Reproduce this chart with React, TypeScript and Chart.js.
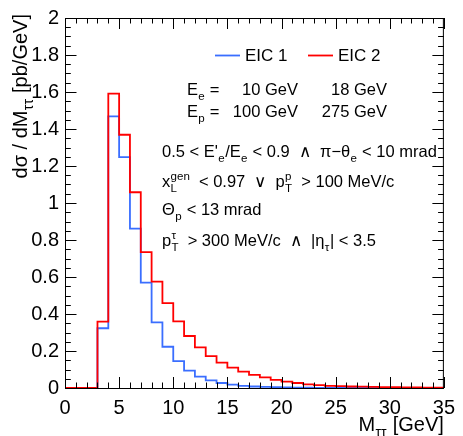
import React, { useEffect, useRef } from 'react';
import { Chart, registerables } from 'chart.js';

Chart.register(...registerables);

// Bin edges (GeV) of the M_tautau histogram, 1 GeV bins from 0 to 35
const binEdges: number[] = Array.from({ length: 36 }, (_, i) => i);

// EIC 1 (10 GeV x 100 GeV) dsigma/dM [pb/GeV] per bin
const eic1: number[] = [
  0, 0, 0, 0.323, 1.468, 1.248, 0.862, 0.570, 0.355, 0.223,
  0.145, 0.094, 0.062, 0.041, 0.027, 0.018, 0.012, 0.008, 0.006, 0.004,
  0.003, 0.002, 0.002, 0.001, 0.001, 0.001, 0.001, 0.001, 0, 0,
  0, 0, 0, 0, 0,
];

// EIC 2 (18 GeV x 275 GeV) dsigma/dM [pb/GeV] per bin
const eic2: number[] = [
  0, 0, 0, 0.359, 1.591, 1.369, 1.058, 0.735, 0.575, 0.459,
  0.360, 0.281, 0.220, 0.172, 0.137, 0.110, 0.089, 0.071, 0.057, 0.044,
  0.035, 0.027, 0.020, 0.016, 0.012, 0.010, 0.008, 0.007, 0.006, 0.005,
  0.004, 0.003, 0.003, 0.002, 0.002,
];

const seriesNames: string[] = ['EIC 1', 'EIC 2'];
const xRange: number[] = [0, 35];
const yRange: number[] = [0, 2];
const xMajorStep = 5;
const xMinorStep = 1;
const yMajorStep = 0.2;
const yMinorStep = 0.05;

const FONT = "'Liberation Sans', Arial, Helvetica, sans-serif";
const BLUE = 'rgb(58,110,255)';
const RED = 'rgb(255,0,0)';

type Tok = { t: string; sub?: string; sup?: string };

function scriptExtra(size: number, tok: Tok, extra: number) {
  if (extra <= 0) return 0;
  return extra + size * 0.05 + (tok.sub && tok.sup ? 4 : 0);
}

function tokWidth(ctx: CanvasRenderingContext2D, tok: Tok, size: number) {
  ctx.font = `${size}px ${FONT}`;
  const w = ctx.measureText(tok.t).width;
  const s = size * 0.7;
  ctx.font = `${s}px ${FONT}`;
  const ws = tok.sub ? ctx.measureText(tok.sub).width : 0;
  const wp = tok.sup ? ctx.measureText(tok.sup).width : 0;
  return w + scriptExtra(size, tok, Math.max(ws, wp));
}

function richWidth(ctx: CanvasRenderingContext2D, toks: Tok[], size: number) {
  return toks.reduce((a, tk) => a + tokWidth(ctx, tk, size), 0);
}

function drawRich(
  ctx: CanvasRenderingContext2D,
  toks: Tok[],
  x: number,
  y: number,
  size: number,
  align: 'left' | 'right' = 'left'
) {
  let cx = align === 'right' ? x - richWidth(ctx, toks, size) : x;
  ctx.textAlign = 'left';
  ctx.textBaseline = 'alphabetic';
  for (const tk of toks) {
    ctx.font = `${size}px ${FONT}`;
    ctx.fillText(tk.t, cx, y);
    const w = ctx.measureText(tk.t).width;
    const s = size * 0.7;
    ctx.font = `${s}px ${FONT}`;
    let extra = 0;
    if (tk.sub) {
      ctx.fillText(tk.sub, cx + w + size * 0.02, y + size * 0.28);
      extra = Math.max(extra, ctx.measureText(tk.sub).width);
    }
    if (tk.sup) {
      ctx.fillText(tk.sup, cx + w + size * 0.02, y - size * 0.45);
      extra = Math.max(extra, ctx.measureText(tk.sup).width);
    }
    cx += w + scriptExtra(size, tk, extra);
  }
}

const rootStyle = {
  id: 'rootStyle',
  afterDraw(chart: any) {
    const { ctx, chartArea, scales } = chart;
    const { left, right, top, bottom } = chartArea;
    const xs = scales.x;
    const ys = scales.y;
    ctx.save();
    ctx.strokeStyle = '#000';
    ctx.lineWidth = 1;
    ctx.strokeRect(left + 0.5, top + 0.5, right - left - 1, bottom - top);

    ctx.beginPath();
    const nx = Math.round((xRange[1] - xRange[0]) / xMinorStep);
    for (let i = 0; i <= nx; i++) {
      const v = xRange[0] + i * xMinorStep;
      const major = Math.abs(v / xMajorStep - Math.round(v / xMajorStep)) < 1e-6;
      const len = major ? 11 : 5.5;
      const px = Math.round(xs.getPixelForValue(v)) + 0.5;
      ctx.moveTo(px, bottom);
      ctx.lineTo(px, bottom - len);
      ctx.moveTo(px, top);
      ctx.lineTo(px, top + len);
    }
    const ny = Math.round((yRange[1] - yRange[0]) / yMinorStep);
    for (let i = 0; i <= ny; i++) {
      const v = yRange[0] + i * yMinorStep;
      const major = Math.abs(v / yMajorStep - Math.round(v / yMajorStep)) < 1e-6;
      const len = major ? 11.5 : 5.8;
      const py = Math.round(ys.getPixelForValue(v)) + 0.5;
      ctx.moveTo(left, py);
      ctx.lineTo(left + len, py);
      ctx.moveTo(right, py);
      ctx.lineTo(right - len, py);
    }
    ctx.stroke();

    ctx.fillStyle = '#000';
    // axis titles
    drawRich(ctx, [{ t: 'M', sub: 'ττ' }, { t: ' [GeV]' }], right, 431, 20, 'right');
    ctx.save();
    ctx.translate(27, top - 4);
    ctx.rotate(-Math.PI / 2);
    drawRich(ctx, [{ t: 'dσ / dM', sub: 'ττ' }, { t: ' [pb/GeV]' }], 0, 0, 20, 'right');
    ctx.restore();

    // legend
    const ly = 55.5;
    ctx.lineWidth = 1.8;
    ctx.strokeStyle = BLUE;
    ctx.beginPath();
    ctx.moveTo(215, ly);
    ctx.lineTo(240, ly);
    ctx.stroke();
    ctx.strokeStyle = RED;
    ctx.beginPath();
    ctx.moveTo(308, ly);
    ctx.lineTo(333, ly);
    ctx.stroke();
    ctx.fillStyle = '#000';
    drawRich(ctx, [{ t: seriesNames[0] }], 245, 61, 17);
    drawRich(ctx, [{ t: seriesNames[1] }], 338, 61, 17);

    // beam energies
    const fs = 16.5;
    drawRich(ctx, [{ t: 'E', sub: 'e' }, { t: ' =' }], 187, 95, fs);
    drawRich(ctx, [{ t: '10 GeV' }], 298, 95, fs, 'right');
    drawRich(ctx, [{ t: '18 GeV' }], 387, 95, fs, 'right');
    drawRich(ctx, [{ t: 'E', sub: 'p' }, { t: ' =' }], 187, 117, fs);
    drawRich(ctx, [{ t: '100 GeV' }], 298, 117, fs, 'right');
    drawRich(ctx, [{ t: '275 GeV' }], 387, 117, fs, 'right');

    // cuts
    const tx = 162;
    drawRich(
      ctx,
      [
        { t: "0.5 < E'", sub: 'e' },
        { t: '/E', sub: 'e' },
        { t: ' < 0.9  ∧  π−θ', sub: 'e' },
        { t: ' < 10 mrad' },
      ],
      tx,
      157,
      fs
    );
    drawRich(
      ctx,
      [
        { t: 'x', sub: 'L', sup: 'gen' },
        { t: ' < 0.97  ∨  p', sub: 'T', sup: 'p' },
        { t: ' > 100 MeV/c' },
      ],
      tx,
      187,
      fs
    );
    drawRich(ctx, [{ t: 'Θ', sub: 'p' }, { t: ' < 13 mrad' }], tx, 215, fs);
    drawRich(
      ctx,
      [
        { t: 'p', sub: 'T', sup: 'τ' },
        { t: ' > 300 MeV/c  ∧  |η', sub: 'τ' },
        { t: '| < 3.5' },
      ],
      tx,
      246,
      fs
    );
    ctx.restore();
  },
};

function toSteps(vals: number[]) {
  return binEdges.map((x, i) => ({ x, y: vals[Math.min(i, vals.length - 1)] }));
}

export default function App() {
  const ref = useRef<HTMLCanvasElement | null>(null);
  useEffect(() => {
    if (!ref.current) return;
    const chart = new Chart(ref.current, {
      type: 'line',
      data: {
        datasets: [
          {
            label: seriesNames[1],
            data: toSteps(eic2),
            borderColor: RED,
            borderWidth: 1.8,
            stepped: 'before',
            pointRadius: 0,
            fill: false,
            order: 1,
          },
          {
            label: seriesNames[0],
            data: toSteps(eic1),
            borderColor: BLUE,
            borderWidth: 1.8,
            stepped: 'before',
            pointRadius: 0,
            fill: false,
            order: 2,
          },
        ],
      },
      options: {
        animation: false,
        responsive: false,
        maintainAspectRatio: false,
        devicePixelRatio: 1,
        layout: { padding: { left: 0, right: 13, top: 13, bottom: 0 } },
        plugins: { legend: { display: false }, tooltip: { enabled: false } },
        scales: {
          x: {
            type: 'linear',
            min: xRange[0],
            max: xRange[1],
            grid: { display: false, drawTicks: false },
            border: { display: false },
            ticks: {
              stepSize: xMajorStep,
              color: '#000',
              font: { family: FONT, size: 20 },
              padding: 8,
              maxRotation: 0,
              autoSkip: false,
            },
            afterFit: (s: any) => {
              s.height = 48;
            },
          },
          y: {
            min: yRange[0],
            max: yRange[1],
            grid: { display: false, drawTicks: false },
            border: { display: false },
            ticks: {
              stepSize: yMajorStep,
              color: '#000',
              font: { family: FONT, size: 20 },
              padding: 6,
              autoSkip: false,
              callback: (v: any) => String(+Number(v).toFixed(1)),
            },
            afterFit: (s: any) => {
              s.width = 65;
            },
          },
        },
      },
      plugins: [rootStyle],
    });
    return () => chart.destroy();
  }, []);
  return (
    <div style={{ position: 'absolute', left: 0, top: 0, width: 463, height: 436, background: '#fff' }}>
      <canvas ref={ref} width={463} height={436} />
    </div>
  );
}
